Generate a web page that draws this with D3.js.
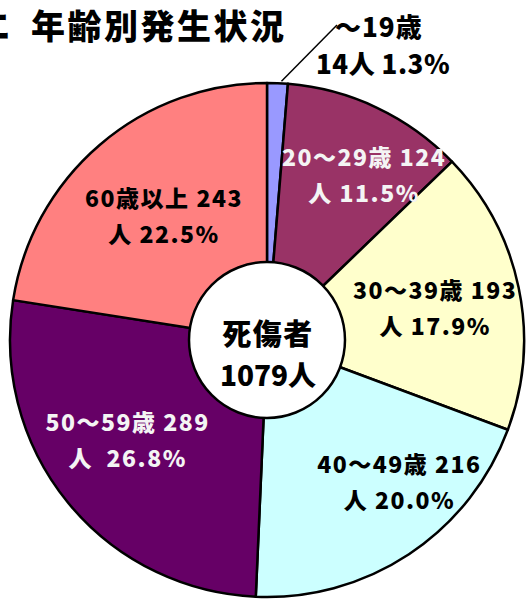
<!DOCTYPE html>
<html>
<head>
<meta charset="utf-8">
<script src="https://cdn.jsdelivr.net/npm/d3@7"></script>
<style>
  body { margin: 0; background: #fff; }
  text { font-family: "Noto Sans CJK JP", "Noto Sans", sans-serif; font-weight: 900; }
</style>
</head>
<body>
<div id="wrapper"></div>
<script>
// data
const ageGroups = ["～19歳", "20～29歳", "30～39歳", "40～49歳", "50～59歳", "60歳以上"]
const counts = [14, 124, 193, 216, 289, 243]
const sliceColors = ["#9999FF", "#993366", "#FFFFCC", "#CCFFFF", "#660066", "#FF8080"]
const labelColors = ["#000", "#f4f4f4", "#000", "#000", "#f4f4f4", "#000"]
const centerLines = ["死傷者", "1079人"]
const title = "年齢別発生状況"

// nudges of each label block from the slice centroid (label radius 180)
const labelShift = [[0, 0], [19, -2], [-9, 5], [32, -7], [-1, -13], [13, 14]]

function drawPie() {
    const dimensions = {
        width: 530,
        height: 603,
        cx: 267,
        cy: 340,
        radius: 257,
        innerRadius: 78,
    }

    const svg = d3.select("#wrapper")
        .append("svg")
        .attr("width", dimensions.width)
        .attr("height", dimensions.height)

    // title (the first character is cut off at the left edge)
    svg.append("text")
        .attr("x", 10)
        .attr("y", 39)
        .attr("text-anchor", "end")
        .style("font-size", "34px")
        .text("エ")
    svg.append("text")
        .attr("x", 31)
        .attr("y", 39)
        .style("font-size", "34px")
        .style("letter-spacing", "2.5px")
        .text(title)

    const total = d3.sum(counts)
    const fmt = d3.format(".1f")
    const slices = ageGroups.map((g, i) => ({
        group: g,
        count: counts[i],
        pct: fmt(counts[i] / total * 100) + "%",
        i: i,
    }))

    const pie = d3.pie()
        .value(d => d.count)
        .sort(null)

    const arcs = pie(slices)

    const arc = d3.arc()
        .innerRadius(0)
        .outerRadius(dimensions.radius)

    const labelArc = d3.arc()
        .innerRadius(180)
        .outerRadius(180)

    const bounds = svg.append("g")
        .attr("transform", `translate(${dimensions.cx}, ${dimensions.cy})`)

    bounds.selectAll("path")
        .data(arcs)
        .enter()
        .append("path")
        .attr("d", arc)
        .attr("fill", d => sliceColors[d.index])
        .attr("stroke", "#000")
        .attr("stroke-width", 2.5)
        .attr("stroke-linejoin", "round")

    // centre hole
    bounds.append("circle")
        .attr("r", dimensions.innerRadius)
        .attr("fill", "#fff")
        .attr("stroke", "#000")
        .attr("stroke-width", 2.5)

    bounds.selectAll(".center")
        .data(centerLines)
        .enter()
        .append("text")
        .attr("class", "center")
        .attr("text-anchor", "middle")
        .attr("x", 1)
        .attr("y", (d, i) => i == 0 ? 5 : 46)
        .style("font-size", (d, i) => i == 0 ? "29px" : "28px")
        .style("letter-spacing", (d, i) => i == 0 ? "1.5px" : "0px")
        .text(d => d)

    const lineGap = 36
    const fontSize = 23

    // inside labels
    arcs.slice(1).forEach(d => {
        const c = labelArc.centroid(d)
        const s = labelShift[d.index]
        const x = c[0] + s[0] + 1
        const y = c[1] + s[1]
        const lines = [
            `${d.data.group} ${d.data.count}`,
            (d.index == 4 ? "人\u00a0\u00a0" : "人 ") + d.data.pct,
        ]
        const t = bounds.append("text")
            .attr("text-anchor", "middle")
            .attr("fill", labelColors[d.index])
            .style("font-size", fontSize + "px")
            .style("letter-spacing", "1.5px")
        lines.forEach((l, k) => {
            t.append("tspan")
                .attr("x", x)
                .attr("y", y + (k - 0.5) * lineGap + fontSize * 0.36)
                .text(l)
        })
    })

    // the small slice gets an outside label with a leader line
    const first = arcs[0]
    const edge = d3.arc().innerRadius(dimensions.radius).outerRadius(dimensions.radius).centroid(first)
    const lineEnd = [70, -315]
    bounds.append("line")
        .attr("x1", edge[0] + 4)
        .attr("y1", edge[1] - 2)
        .attr("x2", lineEnd[0])
        .attr("y2", lineEnd[1])
        .attr("stroke", "#000")
        .attr("stroke-width", 1.5)

    bounds.append("text")
        .attr("x", lineEnd[0] - 2)
        .attr("y", lineEnd[1] + 12)
        .attr("fill", labelColors[0])
        .style("font-size", "26px")
        .style("letter-spacing", "1px")
        .text(first.data.group)

    bounds.append("text")
        .attr("x", 116)
        .attr("y", -275 + 26 * 0.36)
        .attr("text-anchor", "middle")
        .attr("fill", labelColors[0])
        .style("font-size", "26px")
        .style("letter-spacing", "0.5px")
        .text(`${first.data.count}人 ${first.data.pct}`)
}
drawPie()
</script>
</body>
</html>
